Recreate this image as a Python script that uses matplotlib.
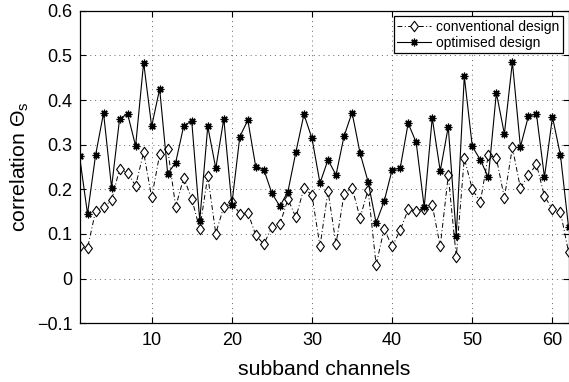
import numpy as np
import matplotlib
matplotlib.use("Agg")
import matplotlib.pyplot as plt
from matplotlib.path import Path

plt.rcParams['font.family'] = ['Liberation Sans', 'DejaVu Sans']
plt.rcParams['mathtext.fontset'] = 'custom'
plt.rcParams['mathtext.rm'] = 'Liberation Sans'
plt.rcParams['mathtext.it'] = 'Liberation Sans'

# subband channel indices
channels = list(range(1, 63))

# correlation per subband, conventional filter bank design
conventional = [
    0.073, 0.068, 0.151, 0.161, 0.175, 0.246, 0.237, 0.208, 0.283, 0.182,
    0.278, 0.290, 0.161, 0.226, 0.179, 0.111, 0.230, 0.101, 0.161, 0.172,
    0.145, 0.148, 0.097, 0.077, 0.116, 0.122, 0.178, 0.137, 0.203, 0.187,
    0.072, 0.196, 0.078, 0.189, 0.204, 0.136, 0.199, 0.031, 0.111, 0.072,
    0.108, 0.155, 0.152, 0.157, 0.165, 0.072, 0.231, 0.049, 0.270, 0.200,
    0.171, 0.277, 0.270, 0.181, 0.294, 0.203, 0.231, 0.256, 0.185, 0.155,
    0.149, 0.060,
]

# correlation per subband, optimised filter bank design
optimised = [
    0.275, 0.145, 0.276, 0.371, 0.204, 0.358, 0.369, 0.297, 0.484, 0.341,
    0.425, 0.235, 0.260, 0.342, 0.353, 0.130, 0.341, 0.247, 0.358, 0.166,
    0.318, 0.355, 0.249, 0.244, 0.191, 0.162, 0.195, 0.284, 0.368, 0.314,
    0.214, 0.266, 0.232, 0.319, 0.372, 0.281, 0.217, 0.125, 0.173, 0.244,
    0.247, 0.348, 0.305, 0.160, 0.360, 0.241, 0.340, 0.096, 0.453, 0.296,
    0.266, 0.227, 0.416, 0.324, 0.485, 0.295, 0.364, 0.369, 0.227, 0.362,
    0.276, 0.116,
]

x_ticks = [10, 20, 30, 40, 50, 60]
y_ticks = [-0.1, 0, 0.1, 0.2, 0.3, 0.4, 0.5, 0.6]
y_ticklabels = ['\u22120.1', '0', '0.1', '0.2', '0.3', '0.4', '0.5', '0.6']

# slightly tall open diamond
diamond = Path([(0, 1), (0.75, 0), (0, -1), (-0.75, 0), (0, 1)],
               [Path.MOVETO, Path.LINETO, Path.LINETO, Path.LINETO, Path.CLOSEPOLY])

fig = plt.figure(figsize=(5.69, 3.82), dpi=100)
ax = fig.add_axes([79.5 / 569, 1 - 323.3 / 382, (568.5 - 79.5) / 569, (323.3 - 10.7) / 382])

ax.plot(channels, conventional, linestyle=(0, (5, 2.5, 1, 2.5)), color='black', linewidth=0.7,
        marker=diamond, markersize=7.5, markerfacecolor='white', markeredgecolor='black',
        markeredgewidth=0.8, label='conventional design')
ax.plot(channels, optimised, linestyle='-', color='black', linewidth=0.8,
        marker=(8, 2, 0), markersize=5.5, markeredgewidth=0.9,
        label='optimised design')

ax.set_xlim(1, 62)
ax.set_ylim(-0.1, 0.6)
ax.set_xticks(x_ticks)
ax.set_yticks(y_ticks)
ax.set_yticklabels(y_ticklabels)
ax.tick_params(direction='in', labelsize=13, length=4, width=0.8, top=True, right=True)
ax.tick_params(axis='x', pad=6)
ax.tick_params(axis='y', pad=5)
for s in ax.spines.values():
    s.set_linewidth(0.9)

ax.grid(True, linestyle=(0, (1, 4)), color='#666666', linewidth=0.7)

ax.set_xlabel('subband channels', fontsize=15.3, labelpad=8)
ax.set_ylabel(r'correlation $\Theta_{\rm s}$', fontsize=15.3, labelpad=4)

leg = ax.legend(loc='upper right', fontsize=10, frameon=True, fancybox=False,
                edgecolor='black', framealpha=1, borderpad=0.25, labelspacing=0.15,
                handlelength=2.4, handletextpad=0.4, borderaxespad=0.4)
leg.get_frame().set_linewidth(0.9)

fig.savefig('out.png', dpi=100)
